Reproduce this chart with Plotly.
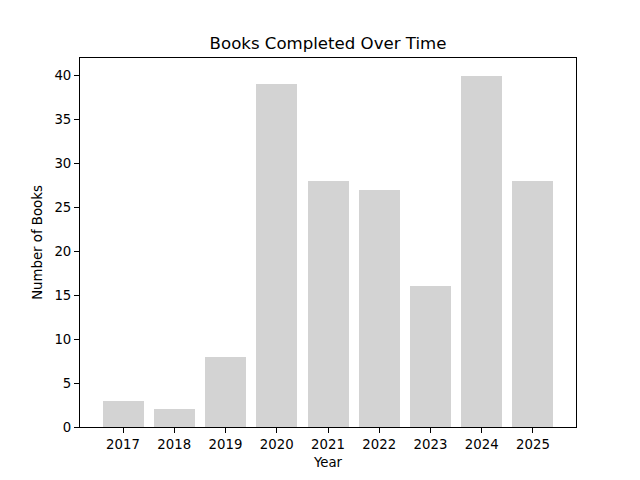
import plotly.graph_objects as go

years = [2017, 2018, 2019, 2020, 2021, 2022, 2023, 2024, 2025]
books = [3, 2, 8, 39, 28, 27, 16, 40, 28]

fig = go.Figure()
fig.add_trace(go.Bar(x=years, y=books, width=0.8, marker=dict(color="lightgrey", line=dict(width=0))))

axis_style = dict(
    showline=True, linecolor="black", linewidth=1, mirror=True,
    ticks="outside", ticklen=5, tickwidth=1, tickcolor="black",
    showgrid=False, zeroline=False,
    tickfont=dict(family="DejaVu Sans", size=13.3, color="black"),
)

# the page puts the figure 8px in from the corner, so margins are shifted
fig.update_layout(
    width=640, height=480,
    margin=dict(l=72, r=72, t=50, b=61),
    paper_bgcolor="white", plot_bgcolor="white",
    font=dict(family="DejaVu Sans", size=13.3, color="black"),
    title=dict(text="Books Completed Over Time", x=0.5, xanchor="center",
               y=1 - 35 / 480, yanchor="middle", yref="container",
               font=dict(size=16.6)),
    showlegend=False,
    bargap=0,
)
fig.update_xaxes(axis_style, range=[2016.16, 2025.84], tickvals=years,
                 title=dict(text="Year", standoff=6, font=dict(size=13.3)))
fig.update_yaxes(axis_style, range=[0, 42], tickvals=[0, 5, 10, 15, 20, 25, 30, 35, 40],
                 title=dict(text="Number of Books", standoff=8, font=dict(size=13.3)))

fig.write_html("out.html")
